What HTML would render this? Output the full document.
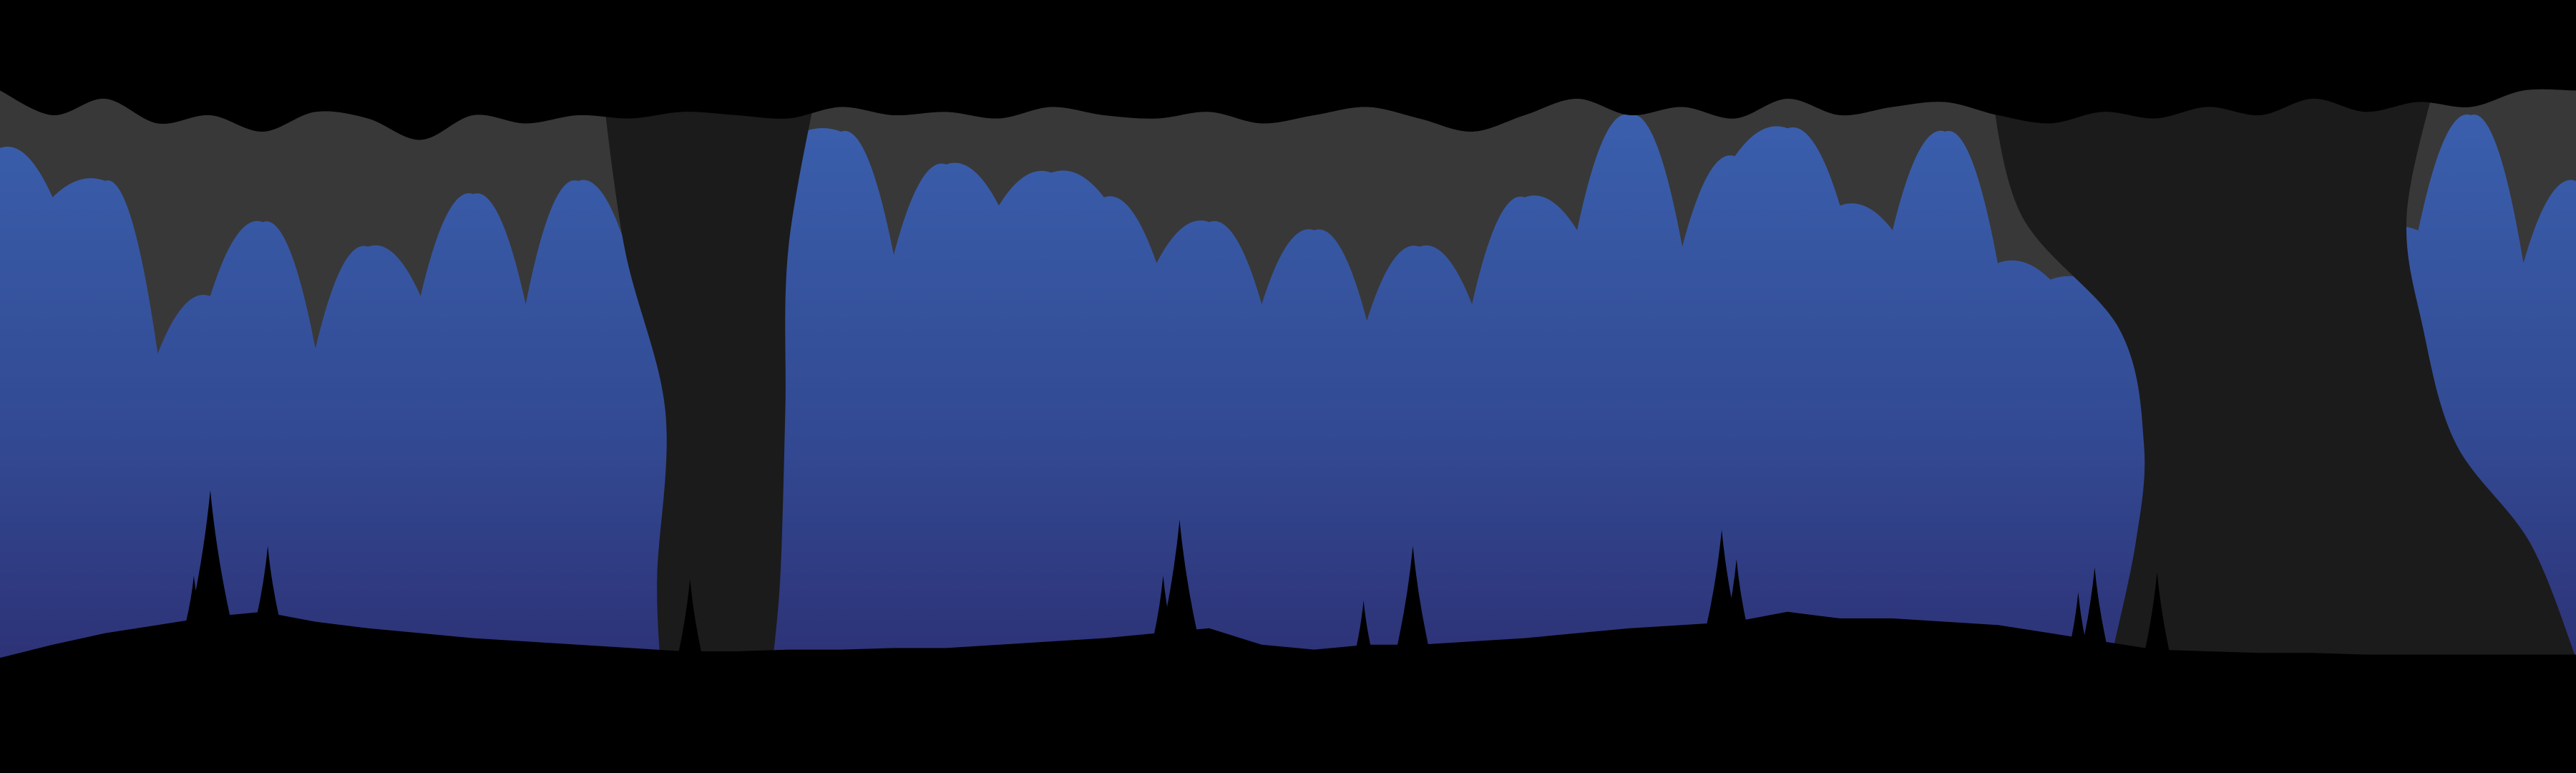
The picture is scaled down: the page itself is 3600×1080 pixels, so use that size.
<!DOCTYPE html>
<html><head><meta charset="utf-8"><style>
html,body{margin:0;padding:0;background:#000;width:3600px;height:1080px;overflow:hidden}
svg{display:block}
</style></head><body>
<svg id="chart" width="3600" height="1080" viewBox="0 0 1568 470" preserveAspectRatio="none">
<defs><linearGradient id="bg" x1="0" y1="0" x2="0" y2="1">
<stop offset="0" stop-color="#3a5fad"/><stop offset="0.5" stop-color="#324992"/><stop offset="1" stop-color="#2b2668"/></linearGradient></defs>
<rect x="0" y="0" width="1568" height="470" fill="#000"/>
<g id="layers"></g>
</svg>
<script>
const grayTop=[55,70,60,75,70,80,68,72,85,70,75,70,72,68,70,72,65,70,68,72,65,70,72,68,75,70,65,72,80,70,60,70,65,72,60,70,65,62,70,75,68,72,65,70,60,68,62,65,55,55];
const blueTop=[90,120,110,215,180,135,212,150,180,118,185,110,160,200,170,85,80,155,100,125,105,120,160,135,185,140,195,150,185,120,140,70,150,95,78,125,140,80,160,170,175,140,120,130,110,140,140,70,160,110];
const blueBottom=[400,392,385,380,375,372,378,382,385,388,390,392,394,396,396,395,395,394,394,392,390,388,385,382,392,395,392,392,390,388,385,382,380,378,372,376,376,378,380,385,390,395,396,397,397,398,398,398,398,398];
const spikeX=[118,128,163,420,708,718,830,860,1048,1057,1265,1275,1313];
const spikeY=[350,298,332,352,350,316,365,332,322,340,360,345,348];
const dark1Y=[40,150,250,350,405];
const dark1L=[365,380,405,400,402];
const dark1R=[500,480,478,475,470];
const dark2Y=[40,130,200,270,330,400];
const dark2L=[1210,1230,1290,1305,1300,1285];
const dark2R=[1485,1465,1475,1495,1540,1568];
const step=32;
const xs=i=>i*step;
function smooth(pts){let d='M'+pts[0][0]+','+pts[0][1];for(let i=0;i<pts.length-1;i++){const p0=pts[Math.max(0,i-1)],p1=pts[i],p2=pts[i+1],p3=pts[Math.min(pts.length-1,i+2)];d+=' C'+(p1[0]+(p2[0]-p0[0])/6)+','+(p1[1]+(p2[1]-p0[1])/6)+' '+(p2[0]-(p3[0]-p1[0])/6)+','+(p2[1]-(p3[1]-p1[1])/6)+' '+p2[0]+','+p2[1];}return d;}
function drips(pts){let d='M'+pts[0][0]+','+pts[0][1];for(let i=0;i<pts.length-1;i++){const a=pts[i],b=pts[i+1];const cy=Math.min(a[1],b[1])-6;d+=' Q'+((a[0]+b[0])/2)+','+cy+' '+b[0]+','+b[1];}return d;}
const g=document.getElementById('layers');
const NS='http://www.w3.org/2000/svg';
function add(d,fill,name){const p=document.createElementNS(NS,'path');p.setAttribute('d',d);p.setAttribute('fill',fill);


g.appendChild(p);}
const gt=grayTop.map((v,i)=>[xs(i),v]);
add(smooth(gt)+' L1568,470 L0,470 Z','#383838','gray-layer');
const bt=blueTop.map((v,i)=>[xs(i),v]);
add(drips(bt)+' L1568,470 L0,470 Z','url(#bg)','blue-layer');
function column(Y,L,R,name){const left=Y.map((y,i)=>[L[i],y]);const right=Y.map((y,i)=>[R[i],y]).reverse();
add(smooth(left)+' L'+right[0][0]+','+right[0][1]+' '+smooth(right).slice(1)+' Z','#1b1b1b',name);}
column(dark1Y,dark1L,dark1R,'dark-column-1');
column(dark2Y,dark2L,dark2R,'dark-column-2');
add(smooth(gt)+' L1568,0 L0,0 Z','#000','top-layer');
let bd='M0,'+blueBottom[0];blueBottom.forEach((v,i)=>{bd+=' L'+xs(i)+','+v;});
add(bd+' L1568,470 L0,470 Z','#000','bottom-layer');
spikeX.forEach((x,i)=>{const base=blueBottom[Math.round(x/step)]+4;const tip=spikeY[i];const hw=Math.max(5,(base-tip)*0.16);
add('M'+(x-hw)+','+base+' Q'+(x-hw*0.3)+','+(tip+(base-tip)*0.5)+' '+x+','+tip+' Q'+(x+hw*0.3)+','+(tip+(base-tip)*0.5)+' '+(x+hw)+','+base+' Z','#000','bottom-spike');});
</script>
</body></html>
